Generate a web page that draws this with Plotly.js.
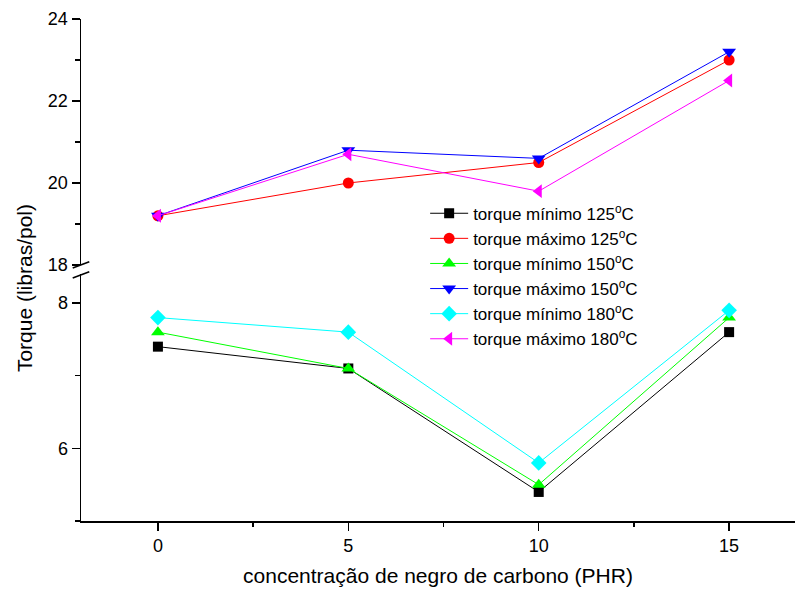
<!DOCTYPE html>
<html>
<head>
<meta charset="utf-8">
<script src="https://cdn.plot.ly/plotly-3.0.1.min.js"></script>
<style>html,body{margin:0;padding:0;background:#fff;}#chart{width:795px;height:590px;}</style>
</head>
<body>
<div id="chart"></div>
<script>
// Data
const concentracao = [0, 5, 10, 15];
const minimo125 = [7.4, 7.1, 5.4, 7.6];
const maximo125 = [19.2, 20.0, 20.5, 23.0];
const minimo150 = [7.6, 7.1, 5.5, 7.8];
const maximo150 = [19.2, 20.8, 20.6, 23.2];
const minimo180 = [7.8, 7.6, 5.8, 7.9];
const maximo180 = [19.2, 20.7, 19.8, 22.5];
const seriesNames = [
  'torque mínimo 125<sup>o</sup>C',
  'torque máximo 125<sup>o</sup>C',
  'torque mínimo 150<sup>o</sup>C',
  'torque máximo 150<sup>o</sup>C',
  'torque mínimo 180<sup>o</sup>C',
  'torque máximo 180<sup>o</sup>C'
];
const xTitle = 'concentração de negro de carbono (PHR)';
const yTitle = 'Torque (libras/pol)';

function tr(y, name, color, symbol, size, axis) {
  return {
    x: concentracao, y: y, name: name, type: 'scatter', mode: 'lines+markers',
    yaxis: axis,
    line: {color: color, width: 1},
    marker: {color: color, symbol: symbol, size: size}
  };
}
const data = [
  tr(minimo125, seriesNames[0], '#000000', 'square', 10, 'y'),
  tr(maximo125, seriesNames[1], '#ff0000', 'circle', 11, 'y2'),
  tr(minimo150, seriesNames[2], '#00ff00', 'triangle-up', 12, 'y'),
  tr(maximo150, seriesNames[3], '#0000ff', 'triangle-down', 12, 'y2'),
  tr(minimo180, seriesNames[4], '#00ffff', 'diamond', 12, 'y'),
  tr(maximo180, seriesNames[5], '#ff00ff', 'triangle-left', 12, 'y2')
];

const font = {family: '"Liberation Sans", Arial, sans-serif', color: '#000', size: 18};
const axisCommon = {
  showline: true, linecolor: '#000', linewidth: 1.5, mirror: false,
  ticks: 'outside', ticklen: 8, tickwidth: 1.5, tickcolor: '#000',
  showgrid: false, zeroline: false, tickmode: 'linear', tick0: 0,
  tickfont: {size: 18}
};
const layout = {
  width: 795, height: 590,
  margin: {l: 81, r: 0, t: 19, b: 69, pad: 0},
  paper_bgcolor: '#fff', plot_bgcolor: '#fff',
  font: font,
  showlegend: true,
  legend: {x: 0.482, y: 0.648, xanchor: 'left', yanchor: 'top', bgcolor: 'rgba(0,0,0,0)',
           font: {size: 17}, borderwidth: 0, traceorder: 'normal', itemwidth: 38},
  xaxis: Object.assign({}, axisCommon, {
    range: [-2.02, 16.73], anchor: 'y', dtick: 5,
    minor: {ticks: 'outside', ticklen: 4, tickwidth: 1.5, tickcolor: '#000', dtick: 2.5, tick0: 0, showgrid: false},
    title: {text: xTitle, font: {size: 21}, standoff: 13}
  }),
  yaxis: Object.assign({}, axisCommon, {
    domain: [0, 0.492], range: [5, 8.4], anchor: 'x', dtick: 2,
    minor: {ticks: 'outside', ticklen: 5, tickwidth: 1.5, tickcolor: '#000', dtick: 1, tick0: 0, showgrid: false}
  }),
  yaxis2: Object.assign({}, axisCommon, {
    domain: [0.51, 1], range: [18, 24], anchor: 'x', dtick: 2,
    minor: {ticks: 'outside', ticklen: 5, tickwidth: 1.5, tickcolor: '#000', dtick: 1, tick0: 0, showgrid: false}
  }),
  annotations: [{
    text: yTitle, textangle: -90, xref: 'paper', yref: 'paper',
    x: -0.0798, y: 0.464, xanchor: 'center', yanchor: 'middle', showarrow: false,
    font: {size: 21}
  }],
  shapes: [
    {type: 'line', xref: 'paper', yref: 'paper', x0: -0.0116, y0: 0.504, x1: 0.0116, y1: 0.5165, line: {color: '#000', width: 1.5}},
    {type: 'line', xref: 'paper', yref: 'paper', x0: -0.0116, y0: 0.484, x1: 0.0116, y1: 0.4966, line: {color: '#000', width: 1.5}}
  ]
};
Plotly.newPlot('chart', data, layout, {displayModeBar: false, staticPlot: true});
</script>
</body>
</html>
